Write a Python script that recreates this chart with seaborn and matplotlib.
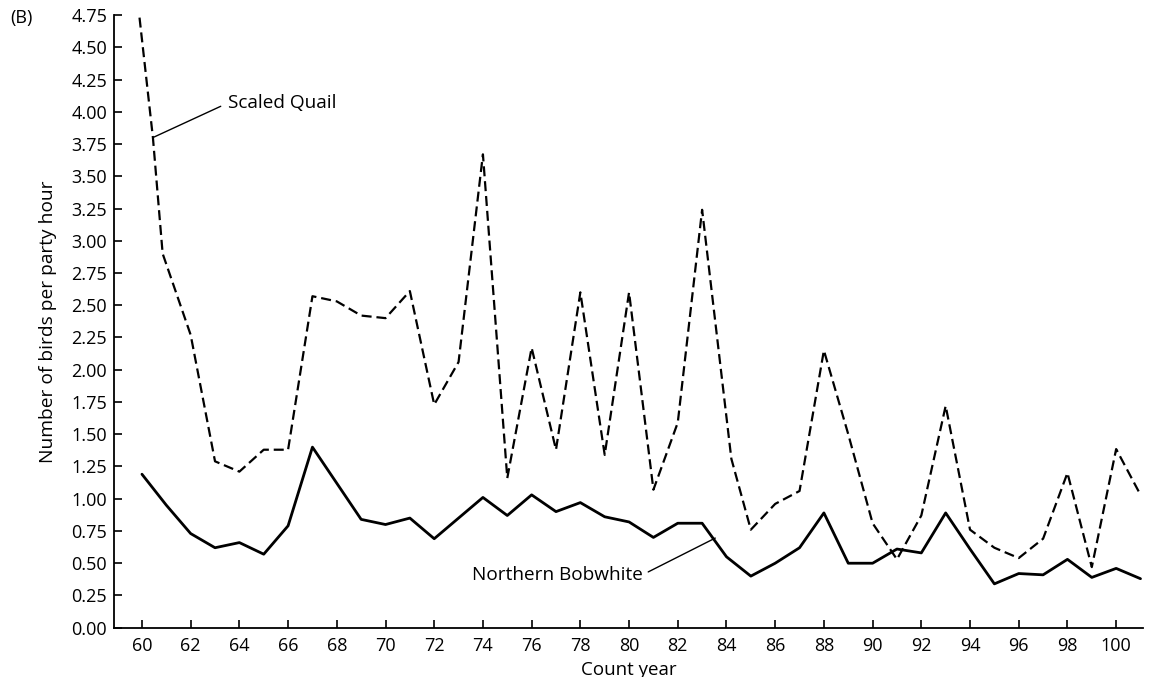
import matplotlib
matplotlib.use("Agg")
import matplotlib.pyplot as plt
import numpy as np
import pandas as pd
import seaborn as sns

# Scaled Quail (dashed) - the first few points sit off the yearly grid in the original drawing
quail_years = [59.9, 60.45, 60.85, 62, 63, 64, 65, 66, 67, 68, 69, 70, 71, 72, 73, 74, 75,
               76, 77, 78, 79, 80, 81, 82, 83, 84.2, 85, 86, 87, 88, 89, 90, 91, 92, 93,
               94, 95, 96, 97, 98, 99, 100, 101]
quail_vals = [4.73, 3.80, 2.90, 2.27, 1.29, 1.21, 1.38, 1.38, 2.57, 2.53, 2.42, 2.40, 2.61,
              1.73, 2.06, 3.67, 1.16, 2.17, 1.38, 2.60, 1.34, 2.60, 1.07, 1.59, 3.24, 1.31,
              0.76, 0.96, 1.06, 2.15, 1.50, 0.81, 0.53, 0.87, 1.72, 0.76, 0.62, 0.54, 0.69,
              1.20, 0.47, 1.385, 1.03]

# Northern Bobwhite (solid)
bob_years = list(range(60, 102))
bob_vals = [1.19, 0.95, 0.73, 0.62, 0.66, 0.57, 0.79, 1.40, 1.12, 0.84, 0.80, 0.85, 0.69,
            0.85, 1.01, 0.87, 1.03, 0.90, 0.97, 0.86, 0.82, 0.70, 0.81, 0.81, 0.55, 0.40,
            0.50, 0.62, 0.89, 0.50, 0.50, 0.61, 0.58, 0.89, 0.61, 0.34, 0.42, 0.41, 0.53,
            0.39, 0.46, 0.38]

x_ticks = list(range(60, 101, 2))
y_ticks = [i * 0.25 for i in range(20)]

sns.set_style("ticks")
plt.rcParams['font.family'] = ['Open Sans', 'DejaVu Sans']
plt.rcParams['text.color'] = 'black'
plt.rcParams['axes.labelcolor'] = 'black'

quail = pd.DataFrame({'year': quail_years, 'value': quail_vals})
bob = pd.DataFrame({'year': bob_years, 'value': bob_vals})

fig = plt.figure(figsize=(11.58, 6.77), dpi=100)
ax = fig.add_axes([0.0984, 0.0728, 0.8886, 0.905])

sns.lineplot(data=quail, x='year', y='value', ax=ax, color='black', lw=1.6,
             linestyle=(0, (4.5, 2.2)))
sns.lineplot(data=bob, x='year', y='value', ax=ax, color='black', lw=2.0)

ax.set_xlim(58.85, 101.1)
ax.set_ylim(0, 4.75)
ax.set_xticks(x_ticks)
ax.set_yticks(y_ticks)
ax.set_yticklabels([f"{v:.2f}" for v in y_ticks])
ax.tick_params(direction='in', length=6, width=1.2, labelsize=13, colors='black')
ax.tick_params(axis='y', pad=5)
ax.tick_params(axis='x', pad=7)
for s in ['top', 'right']:
    ax.spines[s].set_visible(False)
for s in ['left', 'bottom']:
    ax.spines[s].set_linewidth(1.3)
    ax.spines[s].set_color('black')

ax.set_xlabel('Count year', fontsize=13.5, labelpad=4, color='black')
ax.set_ylabel('Number of birds per party hour', fontsize=13.8, color='black')
ax.yaxis.set_label_coords(-0.055, 0.5)

ax.annotate('Scaled Quail', xy=(60.45, 3.80), xytext=(63.55, 4.07), fontsize=13.7,
            ha='left', va='center', color='black',
            arrowprops=dict(arrowstyle='-', lw=1.0, color='black', relpos=(0, 0.5),
                            shrinkA=3.5, shrinkB=0))
ax.annotate('Northern Bobwhite', xy=(83.54, 0.695), xytext=(80.55, 0.41), fontsize=13.7,
            ha='right', va='center', color='black',
            arrowprops=dict(arrowstyle='-', lw=1.0, color='black', relpos=(1, 0.5),
                            shrinkA=2, shrinkB=0))

fig.text(0.009, 0.973, '(B)', fontsize=13, ha='left', va='center', color='black')

fig.savefig('out.png', dpi=100)
